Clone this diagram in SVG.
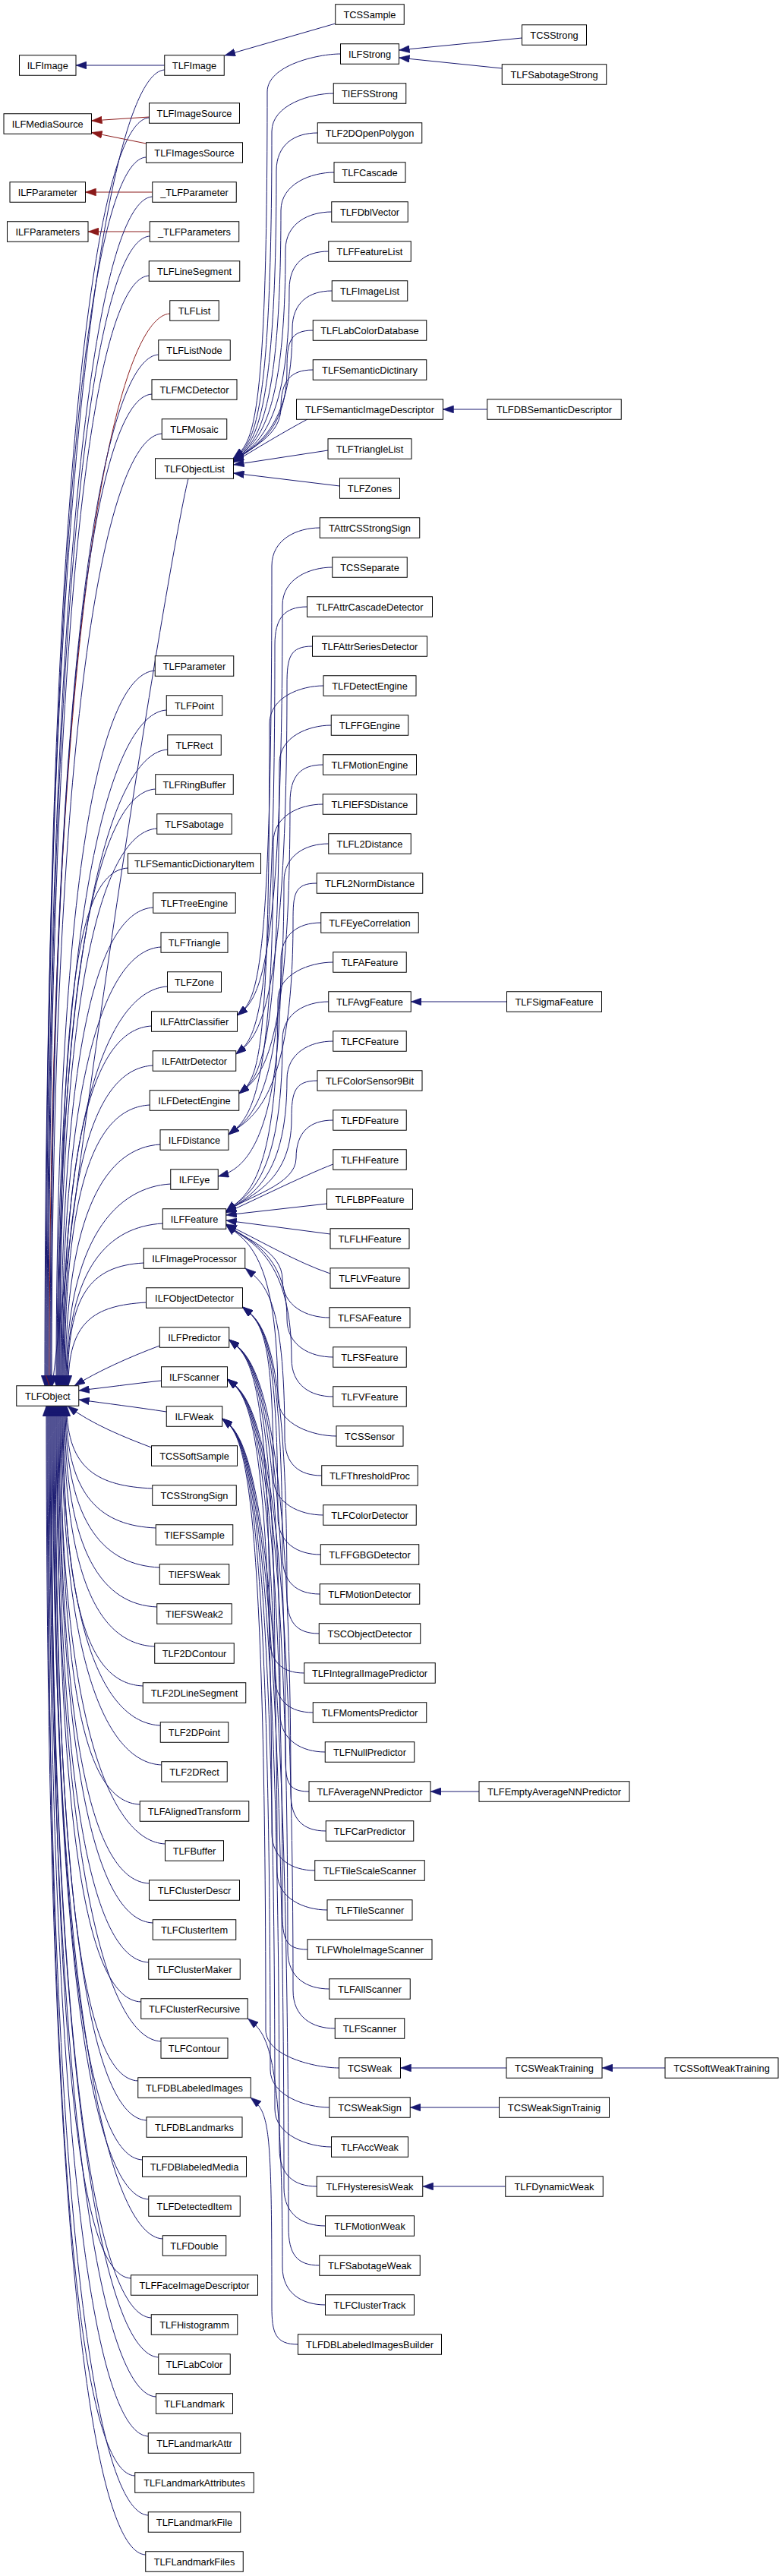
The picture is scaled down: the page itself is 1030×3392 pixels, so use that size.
<svg xmlns="http://www.w3.org/2000/svg" width="1030" height="3392" viewBox="0 0 1030 3392">
<style>
.b{fill:#fff;stroke:#000;stroke-width:1}
.t{font-family:"Liberation Sans",Arial,sans-serif;font-size:12.8px;text-anchor:middle;fill:#000}
.e{fill:none;stroke:#191970;stroke-width:1;marker-end:url(#mb)}
.r{fill:none;stroke:#8b1a1a;stroke-width:1;marker-end:url(#mr)}
</style>
<defs>
<marker id="mb" markerWidth="14" markerHeight="10" refX="14" refY="5" orient="auto" markerUnits="userSpaceOnUse"><path d="M0,0 L14,5 L0,10 z" fill="#191970" stroke="#191970" stroke-width="0.5"/></marker>
<marker id="mr" markerWidth="14" markerHeight="10" refX="14" refY="5" orient="auto" markerUnits="userSpaceOnUse"><path d="M0,0 L14,5 L0,10 z" fill="#8b1a1a" stroke="#8b1a1a" stroke-width="0.5"/></marker>
</defs>
<rect width="1030" height="3392" fill="#fff"/>
<g id="edges">
<path class="e" d="M216.75,86 L100,86"/>
<path class="e" d="M441.75,31 L296,73"/>
<path class="r" d="M196.5,154 L120.5,159"/>
<path class="r" d="M192.5,189 L120.5,174.5"/>
<path class="r" d="M200.75,253 L112.5,253"/>
<path class="r" d="M197.25,305 L116,305"/>
<path class="e" d="M687.5,50 L525.5,66"/>
<path class="e" d="M661.25,90 L525.5,76"/>
<path class="e" d="M641.75,539 L583.5,539"/>
<path class="e" d="M667.5,1319 L541.25,1319"/>
<path class="e" d="M631,2359 L567,2359"/>
<path class="e" d="M667,2723 L527.5,2723"/>
<path class="e" d="M657.5,2775 L540.25,2775"/>
<path class="e" d="M665.75,2879 L556.75,2879"/>
<path class="e" d="M876,2723 L793,2723"/>
<!-- col2 -> TLFObject (above) -->
<path class="e" d="M216.75,92 C146.75,96 59,573 59,1824.75"/>
<path class="e" d="M196.5,155 C126.5,159 60,618 60,1824.75"/>
<path class="e" d="M192.5,207 C122.5,211 61,656 61,1824.75"/>
<path class="e" d="M200.75,259 C130.75,263 62,693 62,1824.75"/>
<path class="e" d="M197.25,311 C127.25,315 63,731 63,1824.75"/>
<path class="e" d="M196.25,363 C126.25,367 64,768 64,1824.75"/>
<path class="r" d="M223.75,413 C153.75,417 65,805 65,1824.75"/>
<path class="e" d="M208.75,467 C138.75,471 66,843 66,1824.75"/>
<path class="e" d="M200,519 C130,523 67,880 67,1824.75"/>
<path class="e" d="M213.25,571 C143.25,575 68,918 68,1824.75"/>
<path class="e" d="M248,630.25 C230,700 129,1300 69,1824.75"/>
<path class="e" d="M204.25,883 C134.25,887 74,1142 74,1824.75"/>
<path class="e" d="M219.25,935 C149.25,939 75,1180 75,1824.75"/>
<path class="e" d="M220.75,987 C150.75,991 76,1217 76,1824.75"/>
<path class="e" d="M204.75,1039 C134.75,1043 77,1255 77,1824.75"/>
<path class="e" d="M206.75,1091 C136.75,1095 78,1292 78,1824.75"/>
<path class="e" d="M168.5,1143 C98.5,1147 79,1330 79,1824.75"/>
<path class="e" d="M201.75,1195 C131.75,1199 80,1367 80,1824.75"/>
<path class="e" d="M212,1247 C142,1251 81,1404 81,1824.75"/>
<path class="e" d="M220.5,1299 C150.5,1303 82,1442 82,1824.75"/>
<path class="e" d="M199.5,1351 C129.5,1355 83,1479 83,1824.75"/>
<path class="e" d="M201.25,1403 C131.25,1407 84,1517 84,1824.75"/>
<path class="e" d="M197.25,1455 C127.25,1459 85,1554 85,1824.75"/>
<path class="e" d="M211,1507 C141,1511 86,1592 86,1824.75"/>
<path class="e" d="M224.75,1559 C154.75,1563 87,1629 87,1824.75"/>
<path class="e" d="M214.25,1611 C144.25,1615 88,1667 88,1824.75"/>
<path class="e" d="M189.25,1663 C119.25,1667 89,1704 89,1824.75"/>
<path class="e" d="M192.5,1715 C122.5,1719 90,1741 90,1824.75"/>
<path class="e" d="M210.25,1772 C170,1787 128,1806 98,1824.75"/>
<path class="e" d="M212.5,1818 C175,1822 140,1827 103.75,1831"/>
<path class="e" d="M219.25,1859 C180,1853 140,1848 103.75,1843"/>
<path class="e" d="M199.5,1906 C165,1893 120,1875 89,1851.25"/>
<!-- col2 -> TLFObject (below) -->
<path class="e" d="M200.75,1960 C130.75,1957 88,1936 88,1851.25"/>
<path class="e" d="M205.25,2012 C135.25,2009 87,1973.5 87,1851.25"/>
<path class="e" d="M210.25,2064 C140.25,2061 86,2011 86,1851.25"/>
<path class="e" d="M206.75,2116 C136.75,2113 85,2048 85,1851.25"/>
<path class="e" d="M203.75,2168 C133.75,2165 84,2086 84,1851.25"/>
<path class="e" d="M188.25,2220 C118.25,2217 83,2123 83,1851.25"/>
<path class="e" d="M211.25,2272 C141.25,2269 82,2161 82,1851.25"/>
<path class="e" d="M212.75,2324 C142.75,2321 81,2198 81,1851.25"/>
<path class="e" d="M184.25,2376 C114.25,2373 80,2236 80,1851.25"/>
<path class="e" d="M217.5,2428 C147.5,2425 79,2273 79,1851.25"/>
<path class="e" d="M196.5,2480 C126.5,2477 78,2310.5 78,1851.25"/>
<path class="e" d="M201.25,2532 C131.25,2529 77,2348 77,1851.25"/>
<path class="e" d="M195.75,2584 C125.75,2581 76,2385 76,1851.25"/>
<path class="e" d="M185.75,2636 C115.75,2633 75,2423 75,1851.25"/>
<path class="e" d="M212,2688 C142,2685 74,2460 74,1851.25"/>
<path class="e" d="M181.75,2740 C111.75,2737 73,2498 73,1851.25"/>
<path class="e" d="M193,2792 C123,2789 72,2535 72,1851.25"/>
<path class="e" d="M187.5,2844 C117.5,2841 71,2573 71,1851.25"/>
<path class="e" d="M195.75,2896 C125.75,2893 70,2610 70,1851.25"/>
<path class="e" d="M214.25,2948 C144.25,2945 69,2647 69,1851.25"/>
<path class="e" d="M172.5,3000 C102.5,2997 68,2685 68,1851.25"/>
<path class="e" d="M199.25,3052 C129.25,3049 67,2722 67,1851.25"/>
<path class="e" d="M208.75,3104 C138.75,3101 66,2760 66,1851.25"/>
<path class="e" d="M205.5,3156 C135.5,3153 65,2797 65,1851.25"/>
<path class="e" d="M195.25,3208 C125.25,3205 64,2835 64,1851.25"/>
<path class="e" d="M177.75,3260 C107.75,3257 63,2872 63,1851.25"/>
<path class="e" d="M195.25,3312 C125.25,3309 62,2909.5 62,1851.25"/>
<path class="e" d="M191.75,3364 C121.75,3361 61,2947 61,1851.25"/>
<!-- col3 -> TLFObjectList -->
<path class="e" d="M448.5,71 C418.5,71 352,86 352,121 C352,568 332.5,583 307.5,603"/>
<path class="e" d="M439.25,123 C409.25,123 358,138 358,173 C358,569 332.5,584 307.5,604"/>
<path class="e" d="M418.25,175 C388.25,175 364,190 364,225 C364,570 332.5,585 307.5,605"/>
<path class="e" d="M440,227 C410,227 370,242 370,277 C370,571 332.5,586 307.5,606"/>
<path class="e" d="M436.75,279 C406.75,279 376,294 376,329 C376,571 332.5,586 307.5,606"/>
<path class="e" d="M432.75,331 C402.75,331 381,346 381,381 C381,572 332.5,587 307.5,607"/>
<path class="e" d="M437.25,383 C407.25,383 385,398 385,433 C385,572 332.5,587 307.5,607"/>
<path class="e" d="M412.25,435 C382.25,435 378,450 378,485 C378,573 332.5,588 307.5,608"/>
<path class="e" d="M412.25,487 C382.25,487 370,502 370,537 C370,573 332.5,588 307.5,608"/>
<path class="e" d="M405,552 C375,568 335,592 307.5,609"/>
<path class="e" d="M432,593 L307.5,612"/>
<path class="e" d="M447.5,640 L307.5,623"/>
<!-- ILFAttrClassifier -->
<path class="e" d="M421.25,695 C391.25,695 358,710 358,745 C358,1302 337.5,1317 312.5,1337"/>
<path class="e" d="M437.75,747 C407.75,747 372,762 372,797 C372,1302 337.5,1317 312.5,1337"/>
<!-- ILFAttrDetector -->
<path class="e" d="M404.5,799 C374.5,799 362,814 362,849 C362,1353 335.75,1368 310.75,1388"/>
<path class="e" d="M411.5,851 C381.5,851 378,866 378,901 C378,1353 335.75,1368 310.75,1388"/>
<!-- ILFDetectEngine -->
<path class="e" d="M426,903 C396,903 355,918 355,953 C355,1405 339.75,1420 314.75,1440"/>
<path class="e" d="M436.25,955 C406.25,955 368,970 368,1005 C368,1405 339.75,1420 314.75,1440"/>
<path class="e" d="M425.5,1007 C395.5,1007 382,1022 382,1057 C382,1405 339.75,1420 314.75,1440"/>
<!-- ILFDistance -->
<path class="e" d="M425.25,1059 C395.25,1059 360,1074 360,1109 C360,1459 326,1474 301,1494"/>
<path class="e" d="M432.75,1111 C402.75,1111 374,1126 374,1161 C374,1459 326,1474 301,1494"/>
<path class="e" d="M417.25,1163 C387.25,1163 386,1178 386,1213 C386,1459 326,1474 301,1494"/>
<!-- ILFEye -->
<path class="e" d="M422.75,1215 C392.75,1215 370,1230 370,1265 C370,1514 317,1541 287.25,1549"/>
<!-- ILFFeature -->
<path class="e" d="M438.75,1267 C408.75,1267 366,1282 366,1317 C366,1560 322.75,1575 297.75,1595"/>
<path class="e" d="M432.75,1319 C402.75,1319 372,1334 372,1369 C372,1560 322.75,1575 297.75,1595"/>
<path class="e" d="M438.75,1371 C408.75,1371 378,1386 378,1421 C378,1561 322.75,1576 297.75,1596"/>
<path class="e" d="M418,1423 C388,1423 384,1438 384,1473 C384,1561 322.75,1576 297.75,1596"/>
<path class="e" d="M438.75,1475 C408.75,1475 390,1490 390,1525 C390,1561 322.75,1576 297.75,1596"/>
<path class="e" d="M438.75,1533 C400,1548 340,1578 297.75,1597"/>
<path class="e" d="M430.5,1585 L297.75,1600"/>
<path class="e" d="M435,1625 L297.75,1607"/>
<path class="e" d="M435,1677 C390,1662 340,1632 297.75,1612"/>
<path class="e" d="M434,1735 C404,1735 372,1720 372,1685 C372,1647 322.75,1632 297.75,1612"/>
<path class="e" d="M438.75,1787 C408.75,1787 378,1772 378,1737 C378,1647 322.75,1632 297.75,1612"/>
<path class="e" d="M438.75,1839 C408.75,1839 384,1824 384,1789 C384,1648 322.75,1633 297.75,1613"/>
<path class="e" d="M443,1891 C413,1891 366,1876 366,1841 C366,1648 322.75,1633 297.75,1613"/>
<!-- ILFImageProcessor -->
<path class="e" d="M423.75,1943 C393.75,1943 375,1928 375,1893 C375,1705 348,1690 323,1670"/>
<!-- ILFObjectDetector -->
<path class="e" d="M425.75,1995 C395.75,1995 360,1980 360,1945 C360,1756 344.5,1741 319.5,1721"/>
<path class="e" d="M422.25,2047 C392.25,2047 366,2032 366,1997 C366,1756 344.5,1741 319.5,1721"/>
<path class="e" d="M421.25,2099 C391.25,2099 372,2084 372,2049 C372,1756 344.5,1741 319.5,1721"/>
<path class="e" d="M420.25,2151 C390.25,2151 378,2136 378,2101 C378,1756 344.5,1741 319.5,1721"/>
<!-- ILFPredictor -->
<path class="e" d="M400.75,2203 C370.75,2203 355,2188 355,2153 C355,1799 326.75,1784 301.75,1764"/>
<path class="e" d="M412.25,2255 C382.25,2255 362,2240 362,2205 C362,1799 326.75,1784 301.75,1764"/>
<path class="e" d="M428.25,2307 C398.25,2307 369,2292 369,2257 C369,1799 326.75,1784 301.75,1764"/>
<path class="e" d="M407,2359 C377,2359 376,2344 376,2309 C376,1799 326.75,1784 301.75,1764"/>
<path class="e" d="M429.25,2411 C399.25,2411 383,2396 383,2361 C383,1799 326.75,1784 301.75,1764"/>
<!-- ILFScanner -->
<path class="e" d="M414.75,2463 C384.75,2463 358,2448 358,2413 C358,1851 324.5,1836 299.5,1816"/>
<path class="e" d="M431,2515 C401,2515 365,2500 365,2465 C365,1851 324.5,1836 299.5,1816"/>
<path class="e" d="M405,2567 C375,2567 372,2552 372,2517 C372,1851 324.5,1836 299.5,1816"/>
<path class="e" d="M433.75,2619 C403.75,2619 379,2604 379,2569 C379,1851 324.5,1836 299.5,1816"/>
<path class="e" d="M441.25,2671 C411.25,2671 386,2656 386,2621 C386,1851 324.5,1836 299.5,1816"/>
<!-- ILFWeak -->
<path class="e" d="M446.5,2723 C416.5,2723 350,2708 350,2673 C350,1903 317.75,1888 292.75,1868"/>
<path class="e" d="M433.75,2775 C403.75,2775 356,2760 356,2725 C356,1903 317.75,1888 292.75,1868"/>
<path class="e" d="M436.5,2827 C406.5,2827 362,2812 362,2777 C362,1903 317.75,1888 292.75,1868"/>
<path class="e" d="M417.25,2879 C387.25,2879 368,2864 368,2829 C368,1903 317.75,1888 292.75,1868"/>
<path class="e" d="M428.5,2931 C398.5,2931 374,2916 374,2881 C374,1903 317.75,1888 292.75,1868"/>
<path class="e" d="M420.75,2983 C390.75,2983 380,2968 380,2933 C380,1903 317.75,1888 292.75,1868"/>
<!-- TLFClusterRecursive / TLFDBLabeledImages -->
<path class="e" d="M428.5,3035 C398.5,3035 372,3020 372,2985 C372,2693 351.5,2678 326.5,2658"/>
<path class="e" d="M392.5,3087 C362.5,3087 358,3072 358,3037 C358,2797 355,2782 330,2762"/>
</g>
<g id="n-ILFImage"><rect class="b" x="25.5" y="72.75" width="74.5" height="26.5"/><text class="t" x="62.75" y="90.5">ILFImage</text></g>
<g id="n-ILFMediaSource"><rect class="b" x="5" y="149.75" width="115.5" height="26.5"/><text class="t" x="62.75" y="167.5">ILFMediaSource</text></g>
<g id="n-ILFParameter"><rect class="b" x="13" y="239.75" width="99.5" height="26.5"/><text class="t" x="62.75" y="257.5">ILFParameter</text></g>
<g id="n-ILFParameters"><rect class="b" x="9.5" y="291.75" width="106.5" height="26.5"/><text class="t" x="62.75" y="309.5">ILFParameters</text></g>
<g id="n-TLFObject"><rect class="b" x="21.75" y="1824.75" width="82" height="26.5"/><text class="t" x="62.75" y="1842.5">TLFObject</text></g>
<g id="n-TLFImage"><rect class="b" x="216.75" y="72.75" width="78.5" height="26.5"/><text class="t" x="256" y="90.5">TLFImage</text></g>
<g id="n-TLFImageSource"><rect class="b" x="196.5" y="135.75" width="119" height="26.5"/><text class="t" x="256" y="153.5">TLFImageSource</text></g>
<g id="n-TLFImagesSource"><rect class="b" x="192.5" y="187.75" width="127" height="26.5"/><text class="t" x="256" y="205.5">TLFImagesSource</text></g>
<g id="n-_TLFParameter"><rect class="b" x="200.75" y="239.75" width="110.5" height="26.5"/><text class="t" x="256" y="257.5">_TLFParameter</text></g>
<g id="n-_TLFParameters"><rect class="b" x="197.25" y="291.75" width="117.5" height="26.5"/><text class="t" x="256" y="309.5">_TLFParameters</text></g>
<g id="n-TLFLineSegment"><rect class="b" x="196.25" y="343.75" width="119.5" height="26.5"/><text class="t" x="256" y="361.5">TLFLineSegment</text></g>
<g id="n-TLFList"><rect class="b" x="223.75" y="395.75" width="64.5" height="26.5"/><text class="t" x="256" y="413.5">TLFList</text></g>
<g id="n-TLFListNode"><rect class="b" x="208.75" y="447.75" width="94.5" height="26.5"/><text class="t" x="256" y="465.5">TLFListNode</text></g>
<g id="n-TLFMCDetector"><rect class="b" x="200" y="499.75" width="112" height="26.5"/><text class="t" x="256" y="517.5">TLFMCDetector</text></g>
<g id="n-TLFMosaic"><rect class="b" x="213.25" y="551.75" width="85.5" height="26.5"/><text class="t" x="256" y="569.5">TLFMosaic</text></g>
<g id="n-TLFObjectList"><rect class="b" x="204.5" y="603.75" width="103" height="26.5"/><text class="t" x="256" y="621.5">TLFObjectList</text></g>
<g id="n-TLFParameter"><rect class="b" x="204.25" y="863.75" width="103.5" height="26.5"/><text class="t" x="256" y="881.5">TLFParameter</text></g>
<g id="n-TLFPoint"><rect class="b" x="219.25" y="915.75" width="73.5" height="26.5"/><text class="t" x="256" y="933.5">TLFPoint</text></g>
<g id="n-TLFRect"><rect class="b" x="220.75" y="967.75" width="70.5" height="26.5"/><text class="t" x="256" y="985.5">TLFRect</text></g>
<g id="n-TLFRingBuffer"><rect class="b" x="204.75" y="1019.75" width="102.5" height="26.5"/><text class="t" x="256" y="1037.5">TLFRingBuffer</text></g>
<g id="n-TLFSabotage"><rect class="b" x="206.75" y="1071.75" width="98.5" height="26.5"/><text class="t" x="256" y="1089.5">TLFSabotage</text></g>
<g id="n-TLFSemanticDictionaryItem"><rect class="b" x="168.5" y="1123.75" width="175" height="26.5"/><text class="t" x="256" y="1141.5">TLFSemanticDictionaryItem</text></g>
<g id="n-TLFTreeEngine"><rect class="b" x="201.75" y="1175.75" width="108.5" height="26.5"/><text class="t" x="256" y="1193.5">TLFTreeEngine</text></g>
<g id="n-TLFTriangle"><rect class="b" x="212" y="1227.75" width="88" height="26.5"/><text class="t" x="256" y="1245.5">TLFTriangle</text></g>
<g id="n-TLFZone"><rect class="b" x="220.5" y="1279.75" width="71" height="26.5"/><text class="t" x="256" y="1297.5">TLFZone</text></g>
<g id="n-ILFAttrClassifier"><rect class="b" x="199.5" y="1331.75" width="113" height="26.5"/><text class="t" x="256" y="1349.5">ILFAttrClassifier</text></g>
<g id="n-ILFAttrDetector"><rect class="b" x="201.25" y="1383.75" width="109.5" height="26.5"/><text class="t" x="256" y="1401.5">ILFAttrDetector</text></g>
<g id="n-ILFDetectEngine"><rect class="b" x="197.25" y="1435.75" width="117.5" height="26.5"/><text class="t" x="256" y="1453.5">ILFDetectEngine</text></g>
<g id="n-ILFDistance"><rect class="b" x="211" y="1487.75" width="90" height="26.5"/><text class="t" x="256" y="1505.5">ILFDistance</text></g>
<g id="n-ILFEye"><rect class="b" x="224.75" y="1539.75" width="62.5" height="26.5"/><text class="t" x="256" y="1557.5">ILFEye</text></g>
<g id="n-ILFFeature"><rect class="b" x="214.25" y="1591.75" width="83.5" height="26.5"/><text class="t" x="256" y="1609.5">ILFFeature</text></g>
<g id="n-ILFImageProcessor"><rect class="b" x="189.25" y="1643.75" width="133.5" height="26.5"/><text class="t" x="256" y="1661.5">ILFImageProcessor</text></g>
<g id="n-ILFObjectDetector"><rect class="b" x="192.5" y="1695.75" width="127" height="26.5"/><text class="t" x="256" y="1713.5">ILFObjectDetector</text></g>
<g id="n-ILFPredictor"><rect class="b" x="210.25" y="1747.75" width="91.5" height="26.5"/><text class="t" x="256" y="1765.5">ILFPredictor</text></g>
<g id="n-ILFScanner"><rect class="b" x="212.5" y="1799.75" width="87" height="26.5"/><text class="t" x="256" y="1817.5">ILFScanner</text></g>
<g id="n-ILFWeak"><rect class="b" x="219.25" y="1851.75" width="73.5" height="26.5"/><text class="t" x="256" y="1869.5">ILFWeak</text></g>
<g id="n-TCSSoftSample"><rect class="b" x="199.5" y="1903.75" width="113" height="26.5"/><text class="t" x="256" y="1921.5">TCSSoftSample</text></g>
<g id="n-TCSStrongSign"><rect class="b" x="200.75" y="1955.75" width="110.5" height="26.5"/><text class="t" x="256" y="1973.5">TCSStrongSign</text></g>
<g id="n-TIEFSSample"><rect class="b" x="205.25" y="2007.75" width="101.5" height="26.5"/><text class="t" x="256" y="2025.5">TIEFSSample</text></g>
<g id="n-TIEFSWeak"><rect class="b" x="210.25" y="2059.75" width="91.5" height="26.5"/><text class="t" x="256" y="2077.5">TIEFSWeak</text></g>
<g id="n-TIEFSWeak2"><rect class="b" x="206.75" y="2111.75" width="98.5" height="26.5"/><text class="t" x="256" y="2129.5">TIEFSWeak2</text></g>
<g id="n-TLF2DContour"><rect class="b" x="203.75" y="2163.75" width="104.5" height="26.5"/><text class="t" x="256" y="2181.5">TLF2DContour</text></g>
<g id="n-TLF2DLineSegment"><rect class="b" x="188.25" y="2215.75" width="135.5" height="26.5"/><text class="t" x="256" y="2233.5">TLF2DLineSegment</text></g>
<g id="n-TLF2DPoint"><rect class="b" x="211.25" y="2267.75" width="89.5" height="26.5"/><text class="t" x="256" y="2285.5">TLF2DPoint</text></g>
<g id="n-TLF2DRect"><rect class="b" x="212.75" y="2319.75" width="86.5" height="26.5"/><text class="t" x="256" y="2337.5">TLF2DRect</text></g>
<g id="n-TLFAlignedTransform"><rect class="b" x="184.25" y="2371.75" width="143.5" height="26.5"/><text class="t" x="256" y="2389.5">TLFAlignedTransform</text></g>
<g id="n-TLFBuffer"><rect class="b" x="217.5" y="2423.75" width="77" height="26.5"/><text class="t" x="256" y="2441.5">TLFBuffer</text></g>
<g id="n-TLFClusterDescr"><rect class="b" x="196.5" y="2475.75" width="119" height="26.5"/><text class="t" x="256" y="2493.5">TLFClusterDescr</text></g>
<g id="n-TLFClusterItem"><rect class="b" x="201.25" y="2527.75" width="109.5" height="26.5"/><text class="t" x="256" y="2545.5">TLFClusterItem</text></g>
<g id="n-TLFClusterMaker"><rect class="b" x="195.75" y="2579.75" width="120.5" height="26.5"/><text class="t" x="256" y="2597.5">TLFClusterMaker</text></g>
<g id="n-TLFClusterRecursive"><rect class="b" x="185.75" y="2631.75" width="140.5" height="26.5"/><text class="t" x="256" y="2649.5">TLFClusterRecursive</text></g>
<g id="n-TLFContour"><rect class="b" x="212" y="2683.75" width="88" height="26.5"/><text class="t" x="256" y="2701.5">TLFContour</text></g>
<g id="n-TLFDBLabeledImages"><rect class="b" x="181.75" y="2735.75" width="148.5" height="26.5"/><text class="t" x="256" y="2753.5">TLFDBLabeledImages</text></g>
<g id="n-TLFDBLandmarks"><rect class="b" x="193" y="2787.75" width="126" height="26.5"/><text class="t" x="256" y="2805.5">TLFDBLandmarks</text></g>
<g id="n-TLFDBlabeledMedia"><rect class="b" x="187.5" y="2839.75" width="137" height="26.5"/><text class="t" x="256" y="2857.5">TLFDBlabeledMedia</text></g>
<g id="n-TLFDetectedItem"><rect class="b" x="195.75" y="2891.75" width="120.5" height="26.5"/><text class="t" x="256" y="2909.5">TLFDetectedItem</text></g>
<g id="n-TLFDouble"><rect class="b" x="214.25" y="2943.75" width="83.5" height="26.5"/><text class="t" x="256" y="2961.5">TLFDouble</text></g>
<g id="n-TLFFaceImageDescriptor"><rect class="b" x="172.5" y="2995.75" width="167" height="26.5"/><text class="t" x="256" y="3013.5">TLFFaceImageDescriptor</text></g>
<g id="n-TLFHistogramm"><rect class="b" x="199.25" y="3047.75" width="113.5" height="26.5"/><text class="t" x="256" y="3065.5">TLFHistogramm</text></g>
<g id="n-TLFLabColor"><rect class="b" x="208.75" y="3099.75" width="94.5" height="26.5"/><text class="t" x="256" y="3117.5">TLFLabColor</text></g>
<g id="n-TLFLandmark"><rect class="b" x="205.5" y="3151.75" width="101" height="26.5"/><text class="t" x="256" y="3169.5">TLFLandmark</text></g>
<g id="n-TLFLandmarkAttr"><rect class="b" x="195.25" y="3203.75" width="121.5" height="26.5"/><text class="t" x="256" y="3221.5">TLFLandmarkAttr</text></g>
<g id="n-TLFLandmarkAttributes"><rect class="b" x="177.75" y="3255.75" width="156.5" height="26.5"/><text class="t" x="256" y="3273.5">TLFLandmarkAttributes</text></g>
<g id="n-TLFLandmarkFile"><rect class="b" x="195.25" y="3307.75" width="121.5" height="26.5"/><text class="t" x="256" y="3325.5">TLFLandmarkFile</text></g>
<g id="n-TLFLandmarkFiles"><rect class="b" x="191.75" y="3359.75" width="128.5" height="26.5"/><text class="t" x="256" y="3377.5">TLFLandmarkFiles</text></g>
<g id="n-TCSSample"><rect class="b" x="441.75" y="5.75" width="90.5" height="26.5"/><text class="t" x="487" y="23.5">TCSSample</text></g>
<g id="n-ILFStrong"><rect class="b" x="448.5" y="57.75" width="77" height="26.5"/><text class="t" x="487" y="75.5">ILFStrong</text></g>
<g id="n-TIEFSStrong"><rect class="b" x="439.25" y="109.75" width="95.5" height="26.5"/><text class="t" x="487" y="127.5">TIEFSStrong</text></g>
<g id="n-TLF2DOpenPolygon"><rect class="b" x="418.25" y="161.75" width="137.5" height="26.5"/><text class="t" x="487" y="179.5">TLF2DOpenPolygon</text></g>
<g id="n-TLFCascade"><rect class="b" x="440" y="213.75" width="94" height="26.5"/><text class="t" x="487" y="231.5">TLFCascade</text></g>
<g id="n-TLFDblVector"><rect class="b" x="436.75" y="265.75" width="100.5" height="26.5"/><text class="t" x="487" y="283.5">TLFDblVector</text></g>
<g id="n-TLFFeatureList"><rect class="b" x="432.75" y="317.75" width="108.5" height="26.5"/><text class="t" x="487" y="335.5">TLFFeatureList</text></g>
<g id="n-TLFImageList"><rect class="b" x="437.25" y="369.75" width="99.5" height="26.5"/><text class="t" x="487" y="387.5">TLFImageList</text></g>
<g id="n-TLFLabColorDatabase"><rect class="b" x="412.25" y="421.75" width="149.5" height="26.5"/><text class="t" x="487" y="439.5">TLFLabColorDatabase</text></g>
<g id="n-TLFSemanticDictinary"><rect class="b" x="412.25" y="473.75" width="149.5" height="26.5"/><text class="t" x="487" y="491.5">TLFSemanticDictinary</text></g>
<g id="n-TLFSemanticImageDescriptor"><rect class="b" x="390.5" y="525.75" width="193" height="26.5"/><text class="t" x="487" y="543.5">TLFSemanticImageDescriptor</text></g>
<g id="n-TLFTriangleList"><rect class="b" x="432" y="577.75" width="110" height="26.5"/><text class="t" x="487" y="595.5">TLFTriangleList</text></g>
<g id="n-TLFZones"><rect class="b" x="447.5" y="629.75" width="79" height="26.5"/><text class="t" x="487" y="647.5">TLFZones</text></g>
<g id="n-TAttrCSStrongSign"><rect class="b" x="421.25" y="681.75" width="131.5" height="26.5"/><text class="t" x="487" y="699.5">TAttrCSStrongSign</text></g>
<g id="n-TCSSeparate"><rect class="b" x="437.75" y="733.75" width="98.5" height="26.5"/><text class="t" x="487" y="751.5">TCSSeparate</text></g>
<g id="n-TLFAttrCascadeDetector"><rect class="b" x="404.5" y="785.75" width="165" height="26.5"/><text class="t" x="487" y="803.5">TLFAttrCascadeDetector</text></g>
<g id="n-TLFAttrSeriesDetector"><rect class="b" x="411.5" y="837.75" width="151" height="26.5"/><text class="t" x="487" y="855.5">TLFAttrSeriesDetector</text></g>
<g id="n-TLFDetectEngine"><rect class="b" x="426" y="889.75" width="122" height="26.5"/><text class="t" x="487" y="907.5">TLFDetectEngine</text></g>
<g id="n-TLFFGEngine"><rect class="b" x="436.25" y="941.75" width="101.5" height="26.5"/><text class="t" x="487" y="959.5">TLFFGEngine</text></g>
<g id="n-TLFMotionEngine"><rect class="b" x="425.5" y="993.75" width="123" height="26.5"/><text class="t" x="487" y="1011.5">TLFMotionEngine</text></g>
<g id="n-TLFIEFSDistance"><rect class="b" x="425.25" y="1045.75" width="123.5" height="26.5"/><text class="t" x="487" y="1063.5">TLFIEFSDistance</text></g>
<g id="n-TLFL2Distance"><rect class="b" x="432.75" y="1097.75" width="108.5" height="26.5"/><text class="t" x="487" y="1115.5">TLFL2Distance</text></g>
<g id="n-TLFL2NormDistance"><rect class="b" x="417.25" y="1149.75" width="139.5" height="26.5"/><text class="t" x="487" y="1167.5">TLFL2NormDistance</text></g>
<g id="n-TLFEyeCorrelation"><rect class="b" x="422.75" y="1201.75" width="128.5" height="26.5"/><text class="t" x="487" y="1219.5">TLFEyeCorrelation</text></g>
<g id="n-TLFAFeature"><rect class="b" x="438.75" y="1253.75" width="96.5" height="26.5"/><text class="t" x="487" y="1271.5">TLFAFeature</text></g>
<g id="n-TLFAvgFeature"><rect class="b" x="432.75" y="1305.75" width="108.5" height="26.5"/><text class="t" x="487" y="1323.5">TLFAvgFeature</text></g>
<g id="n-TLFCFeature"><rect class="b" x="438.75" y="1357.75" width="96.5" height="26.5"/><text class="t" x="487" y="1375.5">TLFCFeature</text></g>
<g id="n-TLFColorSensor9Bit"><rect class="b" x="418" y="1409.75" width="138" height="26.5"/><text class="t" x="487" y="1427.5">TLFColorSensor9Bit</text></g>
<g id="n-TLFDFeature"><rect class="b" x="438.75" y="1461.75" width="96.5" height="26.5"/><text class="t" x="487" y="1479.5">TLFDFeature</text></g>
<g id="n-TLFHFeature"><rect class="b" x="438.75" y="1513.75" width="96.5" height="26.5"/><text class="t" x="487" y="1531.5">TLFHFeature</text></g>
<g id="n-TLFLBPFeature"><rect class="b" x="430.5" y="1565.75" width="113" height="26.5"/><text class="t" x="487" y="1583.5">TLFLBPFeature</text></g>
<g id="n-TLFLHFeature"><rect class="b" x="435" y="1617.75" width="104" height="26.5"/><text class="t" x="487" y="1635.5">TLFLHFeature</text></g>
<g id="n-TLFLVFeature"><rect class="b" x="435" y="1669.75" width="104" height="26.5"/><text class="t" x="487" y="1687.5">TLFLVFeature</text></g>
<g id="n-TLFSAFeature"><rect class="b" x="434" y="1721.75" width="106" height="26.5"/><text class="t" x="487" y="1739.5">TLFSAFeature</text></g>
<g id="n-TLFSFeature"><rect class="b" x="438.75" y="1773.75" width="96.5" height="26.5"/><text class="t" x="487" y="1791.5">TLFSFeature</text></g>
<g id="n-TLFVFeature"><rect class="b" x="438.75" y="1825.75" width="96.5" height="26.5"/><text class="t" x="487" y="1843.5">TLFVFeature</text></g>
<g id="n-TCSSensor"><rect class="b" x="443" y="1877.75" width="88" height="26.5"/><text class="t" x="487" y="1895.5">TCSSensor</text></g>
<g id="n-TLFThresholdProc"><rect class="b" x="423.75" y="1929.75" width="126.5" height="26.5"/><text class="t" x="487" y="1947.5">TLFThresholdProc</text></g>
<g id="n-TLFColorDetector"><rect class="b" x="425.75" y="1981.75" width="122.5" height="26.5"/><text class="t" x="487" y="1999.5">TLFColorDetector</text></g>
<g id="n-TLFFGBGDetector"><rect class="b" x="422.25" y="2033.75" width="129.5" height="26.5"/><text class="t" x="487" y="2051.5">TLFFGBGDetector</text></g>
<g id="n-TLFMotionDetector"><rect class="b" x="421.25" y="2085.75" width="131.5" height="26.5"/><text class="t" x="487" y="2103.5">TLFMotionDetector</text></g>
<g id="n-TSCObjectDetector"><rect class="b" x="420.25" y="2137.75" width="133.5" height="26.5"/><text class="t" x="487" y="2155.5">TSCObjectDetector</text></g>
<g id="n-TLFIntegralImagePredictor"><rect class="b" x="400.75" y="2189.75" width="172.5" height="26.5"/><text class="t" x="487" y="2207.5">TLFIntegralImagePredictor</text></g>
<g id="n-TLFMomentsPredictor"><rect class="b" x="412.25" y="2241.75" width="149.5" height="26.5"/><text class="t" x="487" y="2259.5">TLFMomentsPredictor</text></g>
<g id="n-TLFNullPredictor"><rect class="b" x="428.25" y="2293.75" width="117.5" height="26.5"/><text class="t" x="487" y="2311.5">TLFNullPredictor</text></g>
<g id="n-TLFAverageNNPredictor"><rect class="b" x="407" y="2345.75" width="160" height="26.5"/><text class="t" x="487" y="2363.5">TLFAverageNNPredictor</text></g>
<g id="n-TLFCarPredictor"><rect class="b" x="429.25" y="2397.75" width="115.5" height="26.5"/><text class="t" x="487" y="2415.5">TLFCarPredictor</text></g>
<g id="n-TLFTileScaleScanner"><rect class="b" x="414.75" y="2449.75" width="144.5" height="26.5"/><text class="t" x="487" y="2467.5">TLFTileScaleScanner</text></g>
<g id="n-TLFTileScanner"><rect class="b" x="431" y="2501.75" width="112" height="26.5"/><text class="t" x="487" y="2519.5">TLFTileScanner</text></g>
<g id="n-TLFWholeImageScanner"><rect class="b" x="405" y="2553.75" width="164" height="26.5"/><text class="t" x="487" y="2571.5">TLFWholeImageScanner</text></g>
<g id="n-TLFAllScanner"><rect class="b" x="433.75" y="2605.75" width="106.5" height="26.5"/><text class="t" x="487" y="2623.5">TLFAllScanner</text></g>
<g id="n-TLFScanner"><rect class="b" x="441.25" y="2657.75" width="91.5" height="26.5"/><text class="t" x="487" y="2675.5">TLFScanner</text></g>
<g id="n-TCSWeak"><rect class="b" x="446.5" y="2709.75" width="81" height="26.5"/><text class="t" x="487" y="2727.5">TCSWeak</text></g>
<g id="n-TCSWeakSign"><rect class="b" x="433.75" y="2761.75" width="106.5" height="26.5"/><text class="t" x="487" y="2779.5">TCSWeakSign</text></g>
<g id="n-TLFAccWeak"><rect class="b" x="436.5" y="2813.75" width="101" height="26.5"/><text class="t" x="487" y="2831.5">TLFAccWeak</text></g>
<g id="n-TLFHysteresisWeak"><rect class="b" x="417.25" y="2865.75" width="139.5" height="26.5"/><text class="t" x="487" y="2883.5">TLFHysteresisWeak</text></g>
<g id="n-TLFMotionWeak"><rect class="b" x="428.5" y="2917.75" width="117" height="26.5"/><text class="t" x="487" y="2935.5">TLFMotionWeak</text></g>
<g id="n-TLFSabotageWeak"><rect class="b" x="420.75" y="2969.75" width="132.5" height="26.5"/><text class="t" x="487" y="2987.5">TLFSabotageWeak</text></g>
<g id="n-TLFClusterTrack"><rect class="b" x="428.5" y="3021.75" width="117" height="26.5"/><text class="t" x="487" y="3039.5">TLFClusterTrack</text></g>
<g id="n-TLFDBLabeledImagesBuilder"><rect class="b" x="392.5" y="3073.75" width="189" height="26.5"/><text class="t" x="487" y="3091.5">TLFDBLabeledImagesBuilder</text></g>
<g id="n-TCSStrong"><rect class="b" x="687.5" y="32.75" width="85" height="26.5"/><text class="t" x="730" y="50.5">TCSStrong</text></g>
<g id="n-TLFSabotageStrong"><rect class="b" x="661.25" y="84.75" width="137.5" height="26.5"/><text class="t" x="730" y="102.5">TLFSabotageStrong</text></g>
<g id="n-TLFDBSemanticDescriptor"><rect class="b" x="641.75" y="525.75" width="176.5" height="26.5"/><text class="t" x="730" y="543.5">TLFDBSemanticDescriptor</text></g>
<g id="n-TLFSigmaFeature"><rect class="b" x="667.5" y="1305.75" width="125" height="26.5"/><text class="t" x="730" y="1323.5">TLFSigmaFeature</text></g>
<g id="n-TLFEmptyAverageNNPredictor"><rect class="b" x="631" y="2345.75" width="198" height="26.5"/><text class="t" x="730" y="2363.5">TLFEmptyAverageNNPredictor</text></g>
<g id="n-TCSWeakTraining"><rect class="b" x="667" y="2709.75" width="126" height="26.5"/><text class="t" x="730" y="2727.5">TCSWeakTraining</text></g>
<g id="n-TCSWeakSignTrainig"><rect class="b" x="657.5" y="2761.75" width="145" height="26.5"/><text class="t" x="730" y="2779.5">TCSWeakSignTrainig</text></g>
<g id="n-TLFDynamicWeak"><rect class="b" x="665.75" y="2865.75" width="128.5" height="26.5"/><text class="t" x="730" y="2883.5">TLFDynamicWeak</text></g>
<g id="n-TCSSoftWeakTraining"><rect class="b" x="876" y="2709.75" width="149" height="26.5"/><text class="t" x="950.5" y="2727.5">TCSSoftWeakTraining</text></g>
</svg>
